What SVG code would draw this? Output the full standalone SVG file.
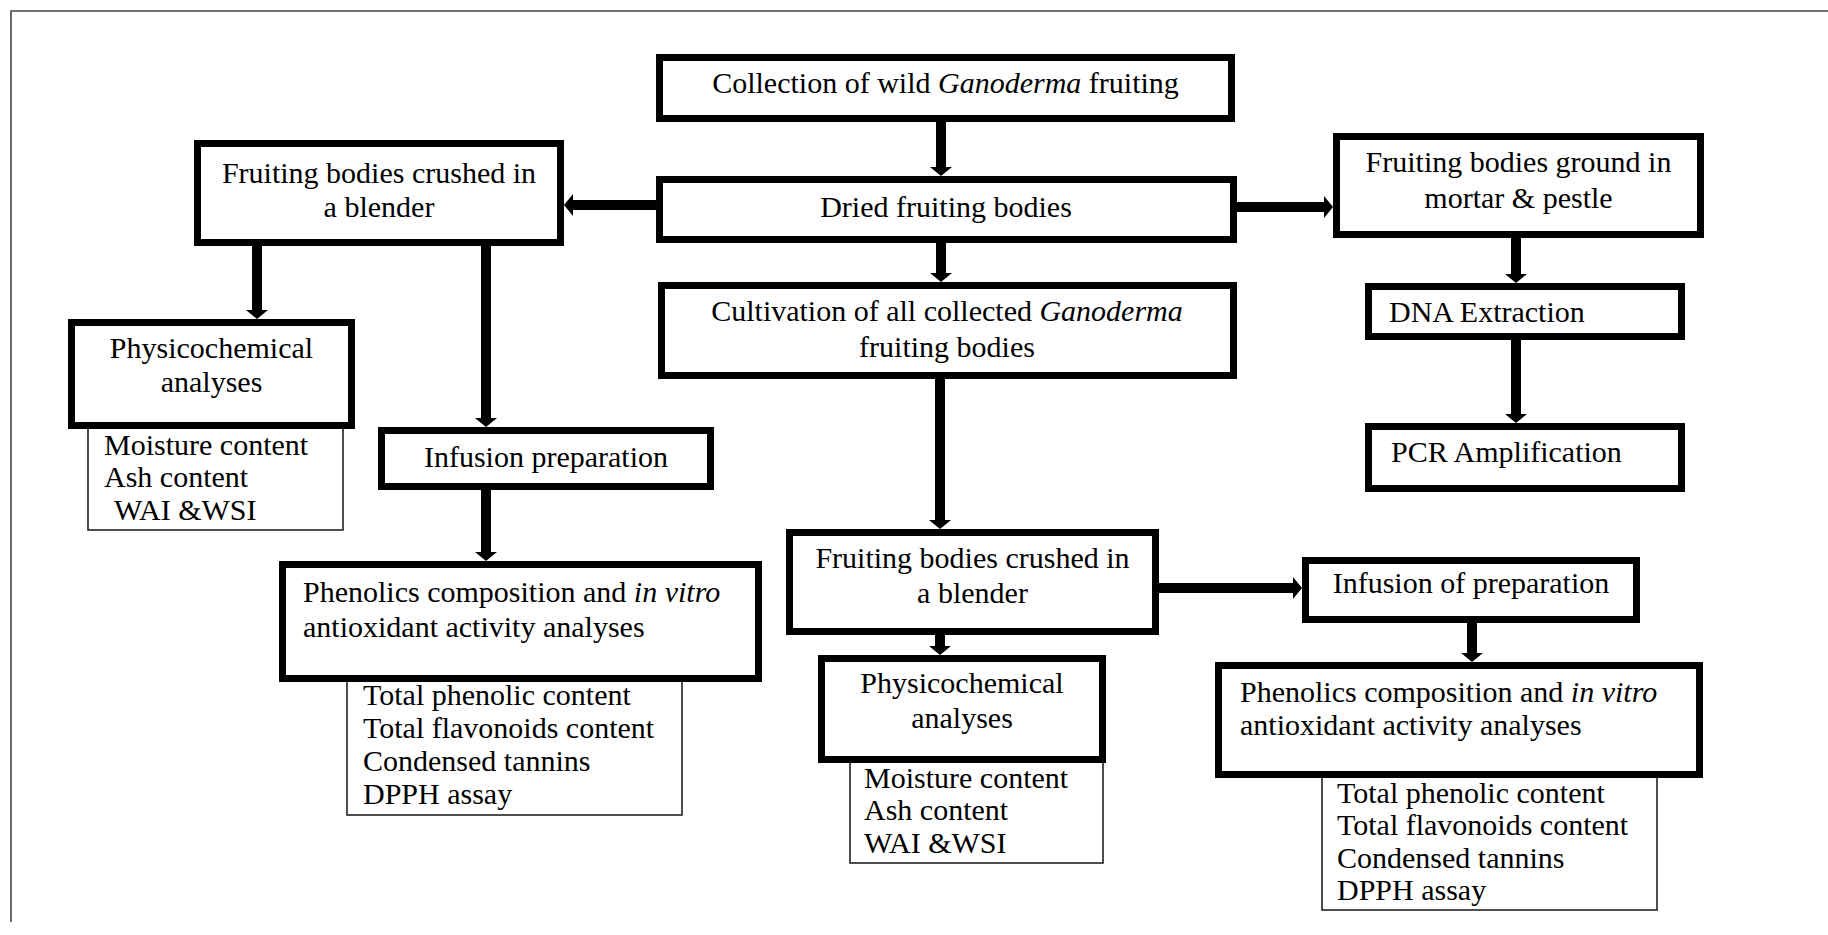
<svg xmlns="http://www.w3.org/2000/svg" width="1828" height="935" viewBox="0 0 1828 935">
<defs>
<style>
.bx{fill:#fff;stroke:#000;stroke-width:7}
.ls{fill:#fff;stroke:#222;stroke-width:1.6}
.t{font-family:"Liberation Serif","Times New Roman",serif;font-size:30px;fill:#000}
.c{text-anchor:middle}
.i{font-style:italic}
.cn{stroke:#000;stroke-width:10;fill:none;marker-end:url(#ah)}
.fr{stroke:#444;stroke-width:1.6;fill:none}
</style>
<marker id="ah" viewBox="0 0 9 22" refX="0" refY="11" markerWidth="9" markerHeight="22" markerUnits="userSpaceOnUse" orient="auto">
<path d="M0,0 L9,11 L0,22 Z" fill="#000"/>
</marker>
</defs>
<rect x="0" y="0" width="1828" height="935" fill="#fff"/>
<path class="fr" d="M11,922 L11,11 L1828,11"/>

<g id="connectors">
<line class="cn" x1="941" y1="122" x2="941" y2="167"/>
<line class="cn" x1="941" y1="243" x2="941" y2="273"/>
<line class="cn" x1="656" y1="205" x2="573" y2="205"/>
<line class="cn" x1="1237" y1="207" x2="1324" y2="207"/>
<line class="cn" x1="257" y1="246" x2="257" y2="310"/>
<line class="cn" x1="486" y1="246" x2="486" y2="418"/>
<line class="cn" x1="486" y1="490" x2="486" y2="552"/>
<line class="cn" x1="940" y1="379" x2="940" y2="520"/>
<line class="cn" x1="940" y1="635" x2="940" y2="646"/>
<line class="cn" x1="1159" y1="588" x2="1293" y2="588"/>
<line class="cn" x1="1472" y1="623" x2="1472" y2="653"/>
<line class="cn" x1="1516" y1="238" x2="1516" y2="274"/>
<line class="cn" x1="1516" y1="340" x2="1516" y2="414"/>
</g>

<g id="collection">
<rect class="bx" x="659.5" y="57.5" width="572" height="61"/>
<text class="t c" x="945.5" y="93">Collection of wild <tspan class="i">Ganoderma</tspan> fruiting</text>
</g>

<g id="dried">
<rect class="bx" x="659.5" y="179.5" width="574" height="60"/>
<text class="t c" x="946" y="217">Dried fruiting bodies</text>
</g>

<g id="cultivation">
<rect class="bx" x="661.5" y="285.5" width="572" height="90"/>
<text class="t c" x="947" y="321">Cultivation of all collected <tspan class="i">Ganoderma</tspan></text>
<text class="t c" x="947" y="357">fruiting bodies</text>
</g>

<g id="blender-left">
<rect class="bx" x="197.5" y="143.5" width="363" height="99"/>
<text class="t c" x="379" y="183">Fruiting bodies crushed in</text>
<text class="t c" x="379" y="217">a blender</text>
</g>

<g id="mortar">
<rect class="bx" x="1336.5" y="136.5" width="364" height="98"/>
<text class="t c" x="1518.5" y="172">Fruiting bodies ground in</text>
<text class="t c" x="1518.5" y="208">mortar &amp; pestle</text>
</g>

<g id="dna">
<rect class="bx" x="1368.5" y="286.5" width="313" height="50"/>
<text class="t" x="1389" y="322">DNA Extraction</text>
</g>

<g id="pcr">
<rect class="bx" x="1368.5" y="426.5" width="313" height="62"/>
<text class="t" x="1391" y="462">PCR Amplification</text>
</g>

<g id="physico-left-list">
<rect class="ls" x="88" y="425" width="255" height="105"/>
<text class="t" x="104" y="455">Moisture content</text>
<text class="t" x="104" y="487">Ash content</text>
<text class="t" x="114" y="520">WAI &amp;WSI</text>
</g>

<g id="physico-left">
<rect class="bx" x="71.5" y="322.5" width="280" height="103"/>
<text class="t c" x="211.5" y="358">Physicochemical</text>
<text class="t c" x="211.5" y="392">analyses</text>
</g>

<g id="infusion-left">
<rect class="bx" x="381.5" y="430.5" width="329" height="56"/>
<text class="t c" x="546" y="467">Infusion preparation</text>
</g>

<g id="phenolics-left-list">
<rect class="ls" x="347" y="678" width="335" height="137"/>
<text class="t" x="363" y="705">Total phenolic content</text>
<text class="t" x="363" y="738">Total flavonoids content</text>
<text class="t" x="363" y="771">Condensed tannins</text>
<text class="t" x="363" y="804">DPPH assay</text>
</g>

<g id="phenolics-left">
<rect class="bx" x="282.5" y="564.5" width="476" height="114"/>
<text class="t" x="303" y="602">Phenolics composition and <tspan class="i">in vitro</tspan></text>
<text class="t" x="303" y="637">antioxidant activity analyses</text>
</g>

<g id="blender-center">
<rect class="bx" x="789.5" y="532.5" width="366" height="99"/>
<text class="t c" x="972.5" y="568">Fruiting bodies crushed in</text>
<text class="t c" x="972.5" y="603">a blender</text>
</g>

<g id="physico-center-list">
<rect class="ls" x="850" y="759" width="253" height="104"/>
<text class="t" x="864" y="788">Moisture content</text>
<text class="t" x="864" y="820">Ash content</text>
<text class="t" x="864" y="853">WAI &amp;WSI</text>
</g>

<g id="physico-center">
<rect class="bx" x="821.5" y="658.5" width="281" height="101"/>
<text class="t c" x="962" y="693">Physicochemical</text>
<text class="t c" x="962" y="728">analyses</text>
</g>

<g id="infusion-right">
<rect class="bx" x="1305.5" y="560.5" width="331" height="59"/>
<text class="t c" x="1471" y="593">Infusion of preparation</text>
</g>

<g id="phenolics-right-list">
<rect class="ls" x="1322" y="774" width="335" height="136"/>
<text class="t" x="1337" y="803">Total phenolic content</text>
<text class="t" x="1337" y="835">Total flavonoids content</text>
<text class="t" x="1337" y="868">Condensed tannins</text>
<text class="t" x="1337" y="900">DPPH assay</text>
</g>

<g id="phenolics-right">
<rect class="bx" x="1218.5" y="665.5" width="481" height="109"/>
<text class="t" x="1240" y="702">Phenolics composition and <tspan class="i">in vitro</tspan></text>
<text class="t" x="1240" y="735">antioxidant activity analyses</text>
</g>
</svg>
